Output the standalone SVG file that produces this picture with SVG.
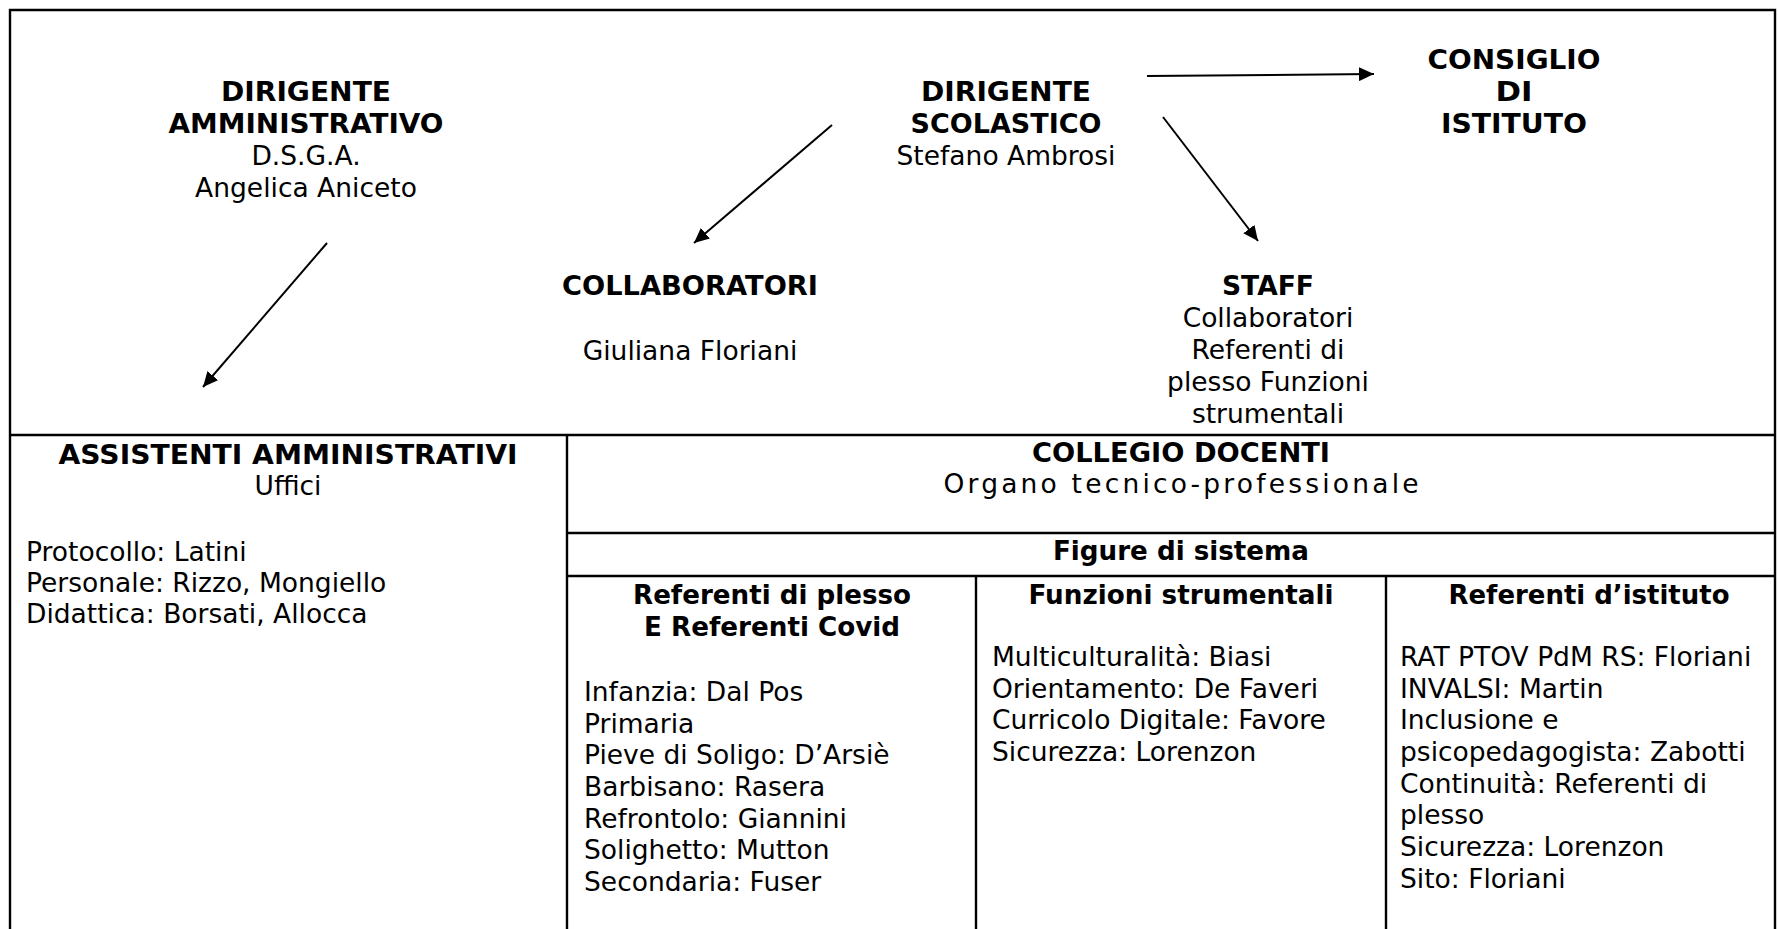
<svg xmlns="http://www.w3.org/2000/svg" width="1778" height="929" viewBox="0 0 1778 929">
<defs>
<style>
text{font-family:"DejaVu Sans",Verdana,sans-serif;font-size:26.5px;fill:#000}
.b{font-weight:bold}
.c{text-anchor:middle}
.frame{fill:none;stroke:#000;stroke-width:2.4}
.conn line{stroke:#000;stroke-width:2;marker-end:url(#ah)}
</style>
<marker id="ah" viewBox="0 0 10 10" refX="10" refY="5" markerWidth="15" markerHeight="14" markerUnits="userSpaceOnUse" orient="auto" preserveAspectRatio="none">
<path d="M0,0 L10,5 L0,10 z" fill="#000"/>
</marker>
</defs>
<rect width="1778" height="929" fill="#fff"/>
<g id="frame" class="frame">
<path d="M10,929 V10 H1775 V929"/>
<line x1="10" y1="435" x2="1775" y2="435"/>
<line x1="567" y1="435" x2="567" y2="929"/>
<line x1="567" y1="533" x2="1775" y2="533"/>
<line x1="567" y1="576" x2="1775" y2="576"/>
<line x1="976" y1="576" x2="976" y2="929"/>
<line x1="1386" y1="576" x2="1386" y2="929"/>
</g>
<g id="dirigente-amministrativo">
<text class="b c" x="306" y="101" textLength="170" lengthAdjust="spacingAndGlyphs">DIRIGENTE</text>
<text class="b c" x="306" y="133" textLength="275" lengthAdjust="spacingAndGlyphs">AMMINISTRATIVO</text>
<text class="c" x="306" y="165">D.S.G.A.</text>
<text class="c" x="306" y="197">Angelica Aniceto</text>
</g>
<g id="dirigente-scolastico">
<text class="b c" x="1006" y="101" textLength="170" lengthAdjust="spacingAndGlyphs">DIRIGENTE</text>
<text class="b c" x="1006" y="133" textLength="191" lengthAdjust="spacingAndGlyphs">SCOLASTICO</text>
<text class="c" x="1006" y="165">Stefano Ambrosi</text>
</g>
<g id="consiglio">
<text class="b c" x="1514" y="69" textLength="173" lengthAdjust="spacingAndGlyphs">CONSIGLIO</text>
<text class="b c" x="1514" y="101" textLength="37" lengthAdjust="spacingAndGlyphs">DI</text>
<text class="b c" x="1514" y="133" textLength="146" lengthAdjust="spacingAndGlyphs">ISTITUTO</text>
</g>
<g id="collaboratori">
<text class="b c" x="690" y="295" textLength="256" lengthAdjust="spacingAndGlyphs">COLLABORATORI</text>
<text class="c" x="690" y="360">Giuliana Floriani</text>
</g>
<g id="staff">
<text class="b c" x="1268" y="295" textLength="92" lengthAdjust="spacingAndGlyphs">STAFF</text>
<text class="c" x="1268" y="327">Collaboratori</text>
<text class="c" x="1268" y="359">Referenti di</text>
<text class="c" x="1268" y="391">plesso Funzioni</text>
<text class="c" x="1268" y="423">strumentali</text>
</g>
<g id="assistenti">
<text class="b c" x="288" y="464" textLength="459" lengthAdjust="spacingAndGlyphs">ASSISTENTI AMMINISTRATIVI</text>
<text class="c" x="288" y="495">Uffici</text>
<text x="26" y="561">Protocollo: Latini</text>
<text x="26" y="592">Personale: Rizzo, Mongiello</text>
<text x="26" y="623">Didattica: Borsati, Allocca</text>
</g>
<g id="collegio">
<text class="b c" x="1181" y="462" textLength="298" lengthAdjust="spacingAndGlyphs">COLLEGIO DOCENTI</text>
<text class="c" x="1181" y="493" textLength="475" lengthAdjust="spacing">Organo tecnico-professionale</text>
</g>
<g id="figure">
<text class="b c" x="1181" y="560" textLength="256" lengthAdjust="spacingAndGlyphs">Figure di sistema</text>
</g>
<g id="referenti-plesso">
<text class="b c" x="772" y="604" textLength="278" lengthAdjust="spacingAndGlyphs">Referenti di plesso</text>
<text class="b c" x="772" y="636" textLength="256" lengthAdjust="spacingAndGlyphs">E Referenti Covid</text>
<text x="584" y="701">Infanzia: Dal Pos</text>
<text x="584" y="733">Primaria</text>
<text x="584" y="764">Pieve di Soligo: D’Arsiè</text>
<text x="584" y="796">Barbisano: Rasera</text>
<text x="584" y="828">Refrontolo: Giannini</text>
<text x="584" y="859">Solighetto: Mutton</text>
<text x="584" y="891">Secondaria: Fuser</text>
</g>
<g id="funzioni">
<text class="b c" x="1181" y="604" textLength="305" lengthAdjust="spacingAndGlyphs">Funzioni strumentali</text>
<text x="992" y="666">Multiculturalità: Biasi</text>
<text x="992" y="698">Orientamento: De Faveri</text>
<text x="992" y="729">Curricolo Digitale: Favore</text>
<text x="992" y="761">Sicurezza: Lorenzon</text>
</g>
<g id="referenti-istituto">
<text class="b c" x="1589" y="604" textLength="281" lengthAdjust="spacingAndGlyphs">Referenti d’istituto</text>
<text x="1400" y="666">RAT PTOV PdM RS: Floriani</text>
<text x="1400" y="698">INVALSI: Martin</text>
<text x="1400" y="729">Inclusione e</text>
<text x="1400" y="761">psicopedagogista: Zabotti</text>
<text x="1400" y="793">Continuità: Referenti di</text>
<text x="1400" y="824">plesso</text>
<text x="1400" y="856">Sicurezza: Lorenzon</text>
<text x="1400" y="888">Sito: Floriani</text>
</g>
<g id="connectors" class="conn">
<line x1="327" y1="243" x2="203" y2="387"/>
<line x1="832" y1="125" x2="694" y2="243"/>
<line x1="1147" y1="76" x2="1374" y2="74"/>
<line x1="1163" y1="117" x2="1258" y2="241"/>
</g>
</svg>
